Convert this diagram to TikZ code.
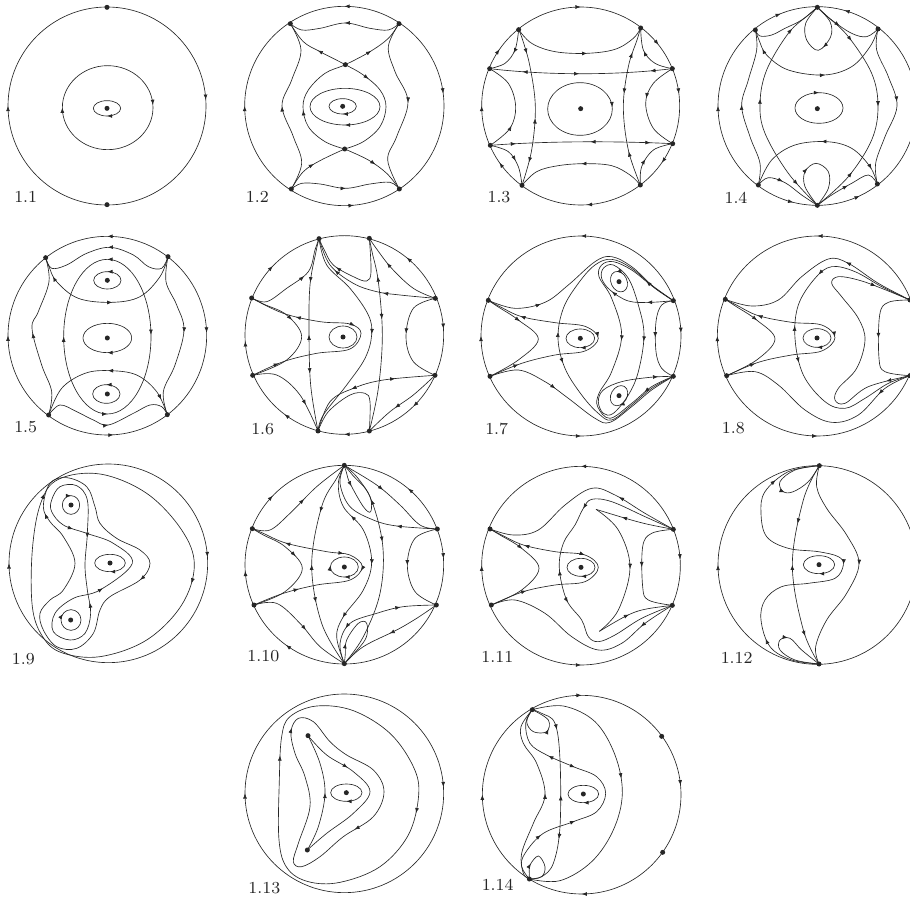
\documentclass[tikz,border=0pt]{standalone}
\usepackage{amsmath}
\usetikzlibrary{arrows.meta,positioning,calc,decorations.markings}
\tikzset{
  orb/.style={draw,black!85,line width=0.65pt},
  fp/.style={circle,fill=black!85,inner sep=0pt,minimum size=5pt},
  lab/.style={font=\fontsize{8}{8}\selectfont,scale=2.1,inner sep=0pt,text=black!85},
  mk/.style={postaction={decorate,decoration={markings,mark=at position #1 with {\arrow{Latex[length=5.2pt,width=3.9pt]}}}}},
  rk/.style={postaction={decorate,decoration={markings,mark=at position #1 with {\arrowreversed{Latex[length=5.2pt,width=3.9pt]}}}}}
}
\newcommand{\orbit}[2][]{\draw[orb,#1] plot[smooth,tension=.6] coordinates {#2};}
\newcommand{\ring}[2][]{\draw[orb,#1] plot[smooth cycle,tension=.6] coordinates {#2};}
\begin{document}
\begin{tikzpicture}[x=0.33333pt,y=-0.33333pt]
  \useasboundingbox (0,0) rectangle (2730,2700);
  % Portrait 1.1
  \begin{scope}[name prefix=a-]
    \node[fp] (N) at (321,22) {};
    \node[fp] (S) at (321,614) {};
    \node[fp] (O) at (321,325) {};
    \node[lab] (L) at (77,590) {1.1};
    \draw[orb,mk=.5,mk=.99] (321,318) circle [radius=297];
    \draw[orb,mk=.5,mk=.99] (323,323) ellipse [x radius=136,y radius=126];
    \draw[orb,mk=.25] (O) ellipse [x radius=41,y radius=23];
  \end{scope}
  % Portrait 1.2
  \begin{scope}[name prefix=b-]
    \node[fp] (A) at (871,71) {};
    \node[fp] (B) at (1197,71) {};
    \node[fp] (C) at (874,567) {};
    \node[fp] (D) at (1198,567) {};
    \node[fp] (E) at (1036,194) {};
    \node[fp] (F) at (1034,447) {};
    \node[fp] (O) at (1028,319) {};
    \node[lab] (L) at (772,590) {1.2};
    \draw[orb,mk=.5,mk=.98,rk=.75,rk=.235] (1033,318) circle [radius=299];
    \orbit[rk=.5]{(A) (905,90) (960,85) (1036,69) (1110,85) (1165,90) (B)}
    \orbit[mk=.5]{(C) (905,550) (960,552) (1036,565) (1110,552) (1170,547) (D)}
    \orbit[rk=.2,mk=.5]{(A) (910,125) (960,155) (E) (1090,225) (1140,270) (1158,320) (1140,380) (1090,425) (F)}
    \orbit[rk=.2,rk=.69]{(B) (1165,115) (1110,155) (E) (975,220) (925,270) (909,320) (925,380) (975,425) (F)}
    \orbit[mk=.5]{(C) (910,515) (960,482) (F)}
    \orbit[rk=.5]{(D) (1160,520) (1105,480) (F)}
    \orbit[rk=.5]{(A) (903,150) (875,240) (846,318) (880,410) (905,490) (C)}
    \orbit[mk=.48]{(B) (1165,140) (1185,215) (1224,305) (1190,410) (1163,480) (D)}
    \draw[orb,mk=.25] (1035,320) ellipse [x radius=105,y radius=55];
    \draw[orb,mk=.25] (O) ellipse [x radius=41,y radius=23];
  \end{scope}
  % Portrait 1.3
  \begin{scope}[shift={(1365,0)},name prefix=c-]
    \node[fp] (A) at (191,89) {};
    \node[fp] (B) at (557,84) {};
    \node[fp] (C) at (104,206) {};
    \node[fp] (D) at (652,206) {};
    \node[fp] (E) at (106,436) {};
    \node[fp] (F) at (653,431) {};
    \node[fp] (G) at (201,556) {};
    \node[fp] (H) at (556,555) {};
    \node[fp] (O) at (377,326) {};
    \node[lab] (L) at (132,590) {1.3};
    \draw[orb,mk=.75,mk=.24,mk=.5,mk=.98,mk=.597,mk=.894,mk=.403,mk=.097] (377,318) circle [radius=297];
    \orbit[mk=.55]{(A) (230,130) (300,155) (395,160) (480,148) (535,115) (B)}
    \orbit[rk=.5]{(G) (245,515) (310,497) (390,491) (470,497) (525,525) (H)}
    \draw[orb,rk=.17,mk=.49,rk=.89] (C) .. controls (280,226) and (480,226) .. (D);
    \draw[orb,mk=.13,rk=.55,mk=.89] (E) .. controls (280,423) and (480,423) .. (F);
    \orbit[rk=.55]{(C) (150,190) (180,150) (A)}
    \orbit[mk=.55]{(E) (160,455) (190,500) (G)}
    \orbit[mk=.6]{(D) (600,190) (565,150) (B)}
    \orbit[rk=.55]{(F) (595,450) (560,500) (H)}
    \orbit[rk=.7]{(C) (160,250) (182,320) (165,385) (E)}
    \orbit[mk=.42]{(D) (595,250) (572,310) (595,385) (F)}
    \orbit[mk=.16,rk=.57,mk=.85]{(A) (203,120) (225,200) (241,320) (230,450) (G)}
    \orbit[rk=.16,mk=.42,rk=.78]{(B) (546,120) (520,200) (505,320) (520,450) (H)}
    \draw[orb,mk=.99] (375,327) ellipse [x radius=97,y radius=79];
  \end{scope}
  % Portrait 1.4
  \begin{scope}[shift={(1365,0)},name prefix=d-]
    \node[fp] (T) at (1087,22) {};
    \node[fp] (S) at (1087,616) {};
    \node[fp] (A) at (901,90) {};
    \node[fp] (B) at (1269,87) {};
    \node[fp] (C) at (910,555) {};
    \node[fp] (D) at (1267,552) {};
    \node[fp] (O) at (1087,326) {};
    \node[lab] (L) at (843,592) {1.4};
    \draw[orb,mk=.5,mk=.98,mk=.69,rk=.794,rk=.289,rk=.18] (1087,318) circle [radius=298];
    \orbit[mk=.55,rk=.12]{(A) (912,120) (935,165) (1000,210) (1107,225) (1190,200) (1245,140) (B)}
    \orbit[rk=.52,mk=.9]{(C) (950,480) (1020,435) (1115,425) (1190,445) (1245,500) (D)}
    \orbit[rk=.55]{(T) (1052,70) (1055,120) (1090,151) (1127,110) (1125,65) (T)}
    \orbit[mk=.4]{(S) (1050,560) (1050,515) (1083,490) (1120,515) (1120,565) (S)}
    \orbit{(T) (1040,60) (990,85) (950,105) (915,108) (A)}
    \orbit[mk=.4]{(T) (1130,60) (1190,100) (1235,110) (B)}
    \orbit[rk=.6]{(S) (1040,585) (990,548) (940,533) (C)}
    \orbit[mk=.5]{(S) (1130,585) (1190,550) (1240,525) (D)}
    \orbit[rk=.48]{(A) (905,150) (880,240) (860,318) (885,410) (915,490) (C)}
    \orbit[mk=.47]{(B) (1265,150) (1300,230) (1326,318) (1290,410) (1262,490) (D)}
    \orbit[rk=.14,rk=.47,mk=.88]{(T) (1060,45) (1000,100) (935,210) (915,310) (930,400) (1000,520) (S)}
    \orbit[mk=.2,mk=.5,rk=.8]{(T) (1112,45) (1180,110) (1250,220) (1269,320) (1250,420) (1180,530) (S)}
    \draw[orb,mk=.75] (1092,324) ellipse [x radius=72,y radius=46];
  \end{scope}
  % Portrait 1.5
  \begin{scope}[shift={(0,675)},name prefix=e-]
    \node[fp] (A) at (137,98) {};
    \node[fp] (B) at (504,95) {};
    \node[fp] (C) at (146,570) {};
    \node[fp] (D) at (502,569) {};
    \node[fp] (O1) at (322,166) {};
    \node[fp] (O2) at (322,339) {};
    \node[fp] (O3) at (322,507) {};
    \node[lab] (L) at (77,607) {1.5};
    \draw[orb,rk=.75,rk=.24,mk=.5,mk=.995] (322,332) circle [radius=298];
    \orbit[mk=.53,rk=.12]{(A) (147,125) (170,170) (235,220) (335,232) (420,215) (480,155) (B)}
    \orbit[rk=.5,mk=.9]{(C) (185,490) (255,445) (330,437) (410,450) (470,500) (D)}
    \orbit[rk=.5]{(A) (155,130) (200,120) (260,85) (330,67) (400,90) (445,125) (485,130) (B)}
    \orbit[mk=.5]{(C) (180,540) (230,560) (280,585) (325,600) (400,565) (450,540) (485,545) (D)}
    \orbit[rk=.48]{(A) (147,170) (115,260) (96,310) (125,420) (155,500) (C)}
    \orbit[mk=.48]{(B) (498,170) (530,240) (552,315) (525,420) (490,500) (D)}
    \draw[orb,rk=.75,rk=.25,mk=.5,mk=.995] (322,335) ellipse [x radius=131,y radius=232];
    \draw[orb,rk=.75] (O1) ellipse [x radius=41,y radius=26];
    \draw[orb,mk=.25] (O2) ellipse [x radius=73,y radius=44];
    \draw[orb,rk=.75] (319,507) ellipse [x radius=41,y radius=28];
  \end{scope}
  % Portrait 1.6
  \begin{scope}[shift={(0,675)},name prefix=f-]
    \node[fp] (A) at (957,41) {};
    \node[fp] (B) at (1108,40) {};
    \node[fp] (C) at (755,219) {};
    \node[fp] (D) at (1306,220) {};
    \node[fp] (E) at (758,451) {};
    \node[fp] (F) at (1305,451) {};
    \node[fp] (G) at (954,618) {};
    \node[fp] (H) at (1108,618) {};
    \node[fp] (O) at (1029,336) {};
    \node[lab] (L) at (788,612) {1.6};
    \draw[orb,mk=.99,rk=.858,mk=.128,mk=.25,mk=.353,mk=.49,mk=.622] (1033,330) circle [radius=298];
    \orbit[mk=.23,rk=.5,mk=.7]{(A) (948,80) (930,180) (927,320) (932,480) (G)}
    \orbit[rk=.4]{(A) (945,75) (925,140) (860,190) (800,230) (C)}
    \orbit[mk=.5]{(A) (980,120) (1050,190) (1105,270) (1115,330) (1095,400) (1040,480) (970,570) (G)}
    \orbit[rk=.25,rk=.63]{(A) (990,120) (1060,175) (1130,200) (1200,210) (D)}
    \orbit[rk=.3]{(A) (973,75) (1000,120) (1060,155) (1100,168) (1113,140) (B)}
    \orbit[rk=.33]{(B) (1130,72) (1175,130) (1240,190) (D)}
    \orbit[rk=.2,mk=.42]{(B) (1116,80) (1135,170) (1147,330) (1135,490) (H)}
    \orbit{(G) (985,560) (1050,510) (1095,505) (1110,530) (H)}
    \orbit[rk=.4,mk=.72]{(G) (990,530) (1060,490) (1150,465) (F)}
    \orbit[rk=.4]{(H) (1170,560) (1240,510) (F)}
    \orbit[mk=.7]{(E) (830,450) (900,510) (G)}
    \orbit[mk=.35]{(C) (790,237) (860,270) (905,335) (860,405) (E)}
    \orbit[mk=.48]{(D) (1240,250) (1218,335) (1240,410) (F)}
    \orbit[rk=.2,mk=.45,rk=.88]{(C) (850,265) (960,290) (1050,297) (1083,325) (1050,372) (950,385) (850,410) (E)}
    \draw[orb] (O) ellipse [x radius=42,y radius=33];
  \end{scope}
  % Portrait 1.7
  \begin{scope}[shift={(1365,675)},name prefix=g-]
    \node[fp] (A) at (100,226) {};
    \node[fp] (B) at (105,454) {};
    \node[fp] (C) at (655,227) {};
    \node[fp] (D) at (655,454) {};
    \node[fp] (O) at (376,340) {};
    \node[fp] (O1) at (492,170) {};
    \node[fp] (O2) at (492,512) {};
    \node[lab] (L) at (125,612) {1.7};
    \draw[orb,rk=.75,rk=.25,mk=.5,mk=.995] (378,333) circle [radius=300];
    \orbit[mk=.3]{(A) (130,246) (190,285) (250,342) (190,405) (B)}
    \orbit[rk=.15,mk=.5,rk=.87]{(A) (135,245) (200,275) (300,293) (390,304) (430,340) (390,378) (300,390) (200,415) (B)}
    \orbit[mk=.25]{(A) (180,250) (270,232) (340,180) (420,110) (470,95) (530,125) (590,180) (C)}
    \orbit[mk=.33]{(B) (190,435) (270,470) (340,520) (420,580) (465,592) (530,545) (590,495) (D)}
    \orbit[rk=.48,mk=.57]{(C) (600,190) (530,130) (470,103) (420,120) (370,175) (325,250) (309,340) (330,430) (380,510) (430,565) (470,585) (530,540) (590,490) (D)}
    \orbit[mk=.1,mk=.5,rk=.9]{(C) (590,182) (530,135) (475,110) (440,120) (432,155) (470,220) (500,330) (470,440) (432,505) (428,545) (465,580) (530,535) (590,485) (D)}
    \orbit[mk=.07,mk=.17,mk=.5,mk=.96]{(C) (585,232) (520,228) (465,195) (440,160) (445,130) (475,120) (520,160) (550,240) (567,330) (550,440) (520,510) (475,565) (445,565) (430,530) (445,495) (500,470) (585,457) (D)}
    \orbit[mk=.5]{(C) (620,240) (603,290) (603,380) (620,430) (D)}
    \draw[orb,rotate around={25:(O1)},mk=.9] (O1) ellipse [x radius=24,y radius=32];
    \draw[orb,mk=.25] (O) ellipse [x radius=43,y radius=28];
    \draw[orb,rotate around={-30:(O2)},mk=.15] (O2) ellipse [x radius=24,y radius=32];
  \end{scope}
  % Portrait 1.8
  \begin{scope}[shift={(1365,675)},name prefix=h-]
    \node[fp] (A) at (811,223) {};
    \node[fp] (B) at (815,452) {};
    \node[fp] (C) at (1365,225) {};
    \node[fp] (D) at (1365,452) {};
    \node[fp] (O) at (1086,339) {};
    \node[lab] (L) at (835,608) {1.8};
    \draw[orb,rk=.75,rk=.25,mk=.5] (1087,333) circle [radius=300];
    \orbit[mk=.3]{(A) (841,243) (905,285) (960,342) (905,405) (B)}
    \orbit[rk=.15,mk=.5,rk=.87]{(A) (846,241) (910,272) (1010,292) (1100,300) (1140,338) (1100,378) (1010,390) (910,412) (B)}
    \orbit[rk=.65]{(A) (890,243) (970,225) (1040,155) (1120,102) (1180,115) (1270,175) (C)}
    \orbit[rk=.83]{(B) (900,440) (970,480) (1050,555) (1130,592) (1210,570) (1290,490) (D)}
    \orbit[mk=.3,rk=.47,mk=.58]{(C) (1280,185) (1200,140) (1130,125) (1080,160) (1030,240) (1020,340) (1045,450) (1110,530) (1170,550) (1230,520) (1300,475) (D)}
    \orbit[rk=.12,rk=.92]{(C) (1280,190) (1210,165) (1150,155) (1130,175) (1160,215) (1210,280) (1230,345) (1205,430) (1150,490) (1140,525) (1170,535) (1240,485) (D)}
    \orbit[mk=.5]{(C) (1300,232) (1274,270) (1272,400) (1290,440) (D)}
    \draw[orb,mk=.25] (O) ellipse [x radius=42,y radius=28];
  \end{scope}
  % Portrait 1.9
  \begin{scope}[shift={(0,1350)},name prefix=i-]
    \node[fp] (O1) at (213,165) {};
    \node[fp] (O2) at (330,339) {};
    \node[fp] (O3) at (212,510) {};
    \node[lab] (L) at (70,627) {1.9};
    \draw[orb,mk=.5,mk=.99] (325,340) circle [radius=298];
    \ring[mk=.285,mk=.887]{(175,88) (300,72) (440,130) (545,240) (583,345) (545,465) (440,570) (300,620) (185,608) (128,560) (97,470) (97,300) (122,160)}
    \ring[mk=.347,mk=.934]{(130,170) (150,100) (200,83) (260,110) (285,170) (300,220) (350,265) (420,300) (450,340) (420,390) (330,440) (300,480) (280,550) (230,595) (170,590) (130,540) (120,490) (150,450) (190,420) (225,340) (190,260) (150,215)}
    \ring[mk=.01,rk=.155,rk=.72,mk=.473]{(262,150) (262,250) (255,345) (262,420) (272,490) (255,550) (210,570) (160,545) (165,490) (220,445) (300,420) (397,340) (340,280) (260,250) (190,225) (155,185) (155,150) (180,110) (230,107)}
    \draw[orb,mk=.75] (O1) ellipse [x radius=26,y radius=28];
    \draw[orb,mk=.25] (O2) ellipse [x radius=46,y radius=26];
    \draw[orb,mk=.6] (213,510) ellipse [x radius=30,y radius=31];
  \end{scope}
  % Portrait 1.10
  \begin{scope}[shift={(0,1350)},name prefix=j-]
    \node[fp] (A) at (1033,46) {};
    \node[fp] (B) at (1033,641) {};
    \node[fp] (C) at (757,236) {};
    \node[fp] (D) at (1312,237) {};
    \node[fp] (E) at (762,465) {};
    \node[fp] (F) at (1309,465) {};
    \node[fp] (O) at (1033,351) {};
    \node[lab] (L) at (790,618) {1.10};
    \draw[orb,rk=.861,mk=.99,mk=.35,mk=.49,mk=.622] (1033,344) circle [radius=298];
    \orbit[mk=.4]{(C) (790,255) (855,290) (907,355) (855,425) (E)}
    \orbit[rk=.15,mk=.4,mk=.52,rk=.8]{(C) (790,250) (860,280) (980,305) (1050,315) (1087,350) (1050,390) (950,405) (850,430) (E)}
    \orbit[mk=.5]{(D) (1245,265) (1222,345) (1245,425) (F)}
    \orbit[mk=.55]{(C) (810,240) (870,190) (950,110) (A)}
    \orbit[mk=.4]{(A) (1130,105) (1200,165) (1260,225) (D)}
    \orbit[rk=.7]{(A) (1020,100) (1050,170) (1120,210) (1190,228) (D)}
    \orbit[mk=.25,rk=.5,mk=.68]{(A) (1010,85) (965,170) (935,345) (965,520) (B)}
    \orbit[rk=.2,mk=.4]{(A) (1060,78) (1110,140) (1148,285) (1140,430) (1090,560) (B)}
    \orbit[rk=.25,mk=.5,mk=.78]{(A) (1015,100) (1030,170) (1090,240) (1115,335) (1090,420) (1030,500) (1010,560) (B)}
    \orbit[mk=.2]{(A) (1040,70) (1050,100) (1090,170) (1112,185) (1110,140) (1070,80) (A)}
    \orbit[mk=.2]{(B) (1036,612) (1040,570) (1075,520) (1100,520) (1095,570) (B)}
    \orbit[rk=.28,mk=.73]{(B) (1020,580) (1050,520) (1130,490) (1210,470) (F)}
    \orbit[rk=.5]{(B) (1090,590) (1190,540) (1250,505) (F)}
    \orbit[mk=.55]{(E) (830,460) (900,520) (960,590) (B)}
    \draw[orb,mk=.25,mk=.52] (O) ellipse [x radius=42,y radius=30];
  \end{scope}
  % Portrait 1.11
  \begin{scope}[shift={(1365,1350)},name prefix=k-]
    \node[fp] (A) at (105,237) {};
    \node[fp] (B) at (109,465) {};
    \node[fp] (C) at (655,238) {};
    \node[fp] (D) at (652,466) {};
    \node[fp] (O) at (378,352) {};
    \coordinate (U) at (423,178);
    \coordinate (V) at (433,544);
    \node[lab] (L) at (127,620) {1.11};
    \draw[orb,rk=.75,rk=.25,mk=.5,mk=.99] (378,347) circle [radius=298];
    \orbit[mk=.3]{(A) (135,255) (200,295) (252,355) (200,420) (B)}
    \orbit[rk=.16,mk=.42,rk=.84]{(A) (140,255) (205,285) (300,305) (390,315) (430,352) (390,395) (300,405) (205,425) (B)}
    \draw[orb,mk=.25] (O) ellipse [x radius=42,y radius=27];
    \orbit[rk=.7]{(A) (175,255) (250,240) (330,165) (410,115) (480,135) (570,190) (C)}
    \orbit[rk=.82]{(B) (180,450) (270,490) (350,560) (430,600) (500,580) (570,520) (D)}
    \orbit[mk=.3,rk=.5,mk=.6]{(C) (570,200) (470,155) (410,148) (385,175) (360,225) (325,280) (313,355) (335,450) (380,510) (400,560) (430,575) (480,555) (560,505) (D)}
    \draw[orb,mk=.65] (C) .. controls (560,220) .. (U);
    \orbit[mk=.5]{(U) (490,240) (525,352) (490,480) (V)}
    \draw[orb,mk=.45] (V) .. controls (540,480) .. (D);
    \orbit[mk=.5]{(C) (590,250) (563,290) (563,410) (580,450) (D)}
  \end{scope}
  % Portrait 1.12
  \begin{scope}[shift={(1365,1350)},name prefix=m-]
    \node[fp] (A) at (1093,47) {};
    \node[fp] (B) at (1092,642) {};
    \node[fp] (O) at (1092,344) {};
    \node[lab] (L) at (845,625) {1.12};
    \draw[orb,mk=.5] (1087,345) circle [radius=298];
    \orbit[mk=.55]{(A) (1020,60) (975,95) (985,125) (1015,125) (1060,95) (A)}
    \orbit[rk=.4]{(B) (1040,600) (1005,565) (975,570) (975,600) (1020,630) (B)}
    \orbit[rk=.12,mk=.5,rk=.84]{(A) (1000,65) (930,125) (918,190) (935,260) (1000,295) (1090,305) (1150,320) (1165,345) (1140,385) (1060,400) (980,410) (930,450) (918,510) (945,590) (1010,630) (B)}
    \orbit[mk=.3,rk=.5,mk=.85]{(A) (1045,150) (1012,345) (1045,540) (B)}
    \orbit[mk=.5]{(A) (1085,110) (1115,175) (1175,255) (1212,340) (1175,430) (1115,510) (1082,590) (B)}
    \draw[orb,mk=.25] (O) ellipse [x radius=47,y radius=27];
  \end{scope}
  % Portrait 1.13
  \begin{scope}[shift={(690,2040)},name prefix=n-]
    \node[fp] (A) at (234,167) {};
    \node[fp] (B) at (232,510) {};
    \node[fp] (O) at (349,338) {};
    \node[lab] (L) at (103,623) {1.13};
    \draw[orb,mk=.5,mk=.99] (343,340) circle [radius=298];
    \ring[mk=.325,mk=.865]{(180,110) (260,78) (370,92) (480,160) (550,260) (566,345) (535,465) (450,560) (330,607) (235,605) (172,565) (147,480) (148,300) (155,170)}
    \ring[mk=.427,mk=.97]{(183,155) (205,115) (250,125) (300,185) (350,225) (430,270) (462,335) (430,410) (340,470) (270,530) (215,560) (190,545) (205,490) (240,380) (225,290) (195,220)}
    \orbit[rk=.5]{(A) (270,250) (285,340) (265,440) (B)}
    \orbit[mk=.3]{(A) (290,225) (370,275) (420,335) (370,400) (290,460) (B)}
    \draw[orb,mk=.25] (O) ellipse [x radius=47,y radius=26];
  \end{scope}
  % Portrait 1.14
  \begin{scope}[shift={(690,2040)},name prefix=o-]
    \node[fp] (A) at (907,89) {};
    \node[fp] (B) at (898,597) {};
    \node[fp] (C) at (1295,169) {};
    \node[fp] (D) at (1298,517) {};
    \node[fp] (O) at (1060,342) {};
    \node[lab] (L) at (803,615) {1.14};
    \draw[orb,mk=.75,mk=.25,mk=.5,mk=.985] (1055,344) circle [radius=298];
    \orbit[mk=.45]{(A) (1000,78) (1095,125) (1155,225) (1177,340) (1150,450) (1085,545) (990,602) (B)}
    \orbit[mk=.6]{(A) (890,125) (910,155) (950,155) (955,120) (A)}
    \orbit[mk=.25]{(B) (898,580) (900,555) (925,528) (945,560) (935,590) (B)}
    \orbit[mk=.17,rk=.5,mk=.72]{(A) (935,100) (975,130) (990,240) (990,440) (970,550) (935,590) (B)}
    \orbit[rk=.5]{(A) (873,140) (880,190) (920,250) (945,345) (910,430) (875,520) (880,580) (B)}
    \orbit[rk=.22,mk=.33,rk=.66,rk=.8]{(A) (887,130) (900,190) (950,225) (1030,260) (1100,290) (1127,340) (1100,395) (1030,425) (940,460) (885,520) (875,560) (B)}
    \draw[orb,mk=.25] (O) ellipse [x radius=46,y radius=26];
  \end{scope}
\end{tikzpicture}
\end{document}
